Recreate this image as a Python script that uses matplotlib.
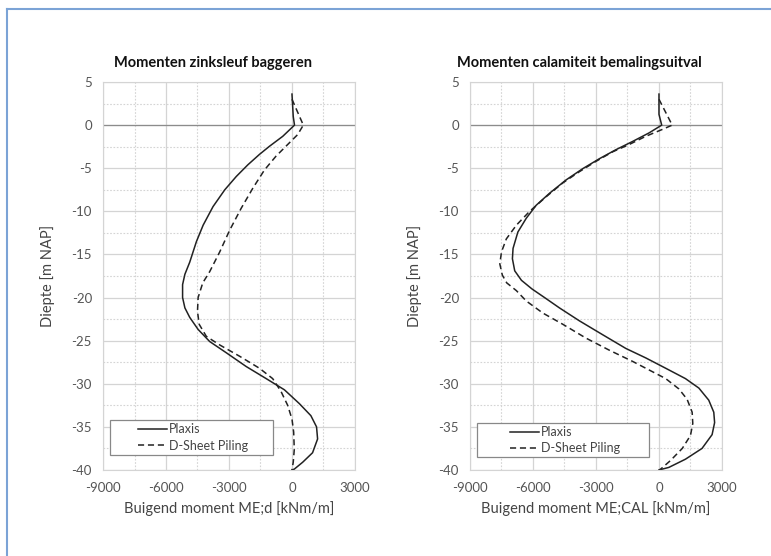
import matplotlib.pyplot as plt
from matplotlib.lines import Line2D
from matplotlib.patches import Rectangle
from matplotlib.ticker import MultipleLocator

plt.rcParams['font.family'] = ['Lato', 'DejaVu Sans']
plt.rcParams['axes.unicode_minus'] = False

# bending moments along the sheet pile wall, depth in m NAP
# -- dredging the trench (ME;d)
depth_plx_d = [3.6, 1.0, 0.0, -1.3, -2.45, -3.4, -4.6, -5.95, -7.5, -9.45, -11.6,
               -13.5, -15.9, -17.3, -18.5, -20.0, -21.2, -22.3, -23.7, -25.1,
               -26.4, -28.0, -29.4, -30.7, -32.3, -33.7, -35.0, -36.4, -38.0,
               -39.1, -39.9, -40.0]
moment_plx_d = [0, 60, 120, -440, -1070, -1550, -2100, -2650, -3200, -3760, -4230,
                -4550, -4870, -5100, -5210, -5210, -5100, -4870, -4470, -3920,
                -3130, -2180, -1230, -360, 350, 900, 1170, 1220, 980,
                510, 110, 0]

depth_dsp_d = [3.0, 0.0, -1.1, -2.25, -3.6, -5.2, -7.3, -9.65, -12.2, -14.7, -17.0,
               -18.3, -20.0, -21.6, -23.1, -24.5, -25.5, -26.8, -28.2, -29.4,
               -30.9, -32.5, -34.1, -35.6, -37.6, -39.1, -40.0]
moment_dsp_d = [0, 540, 270, -205, -760, -1310, -1860, -2420, -2970, -3440, -3920,
                -4250, -4470, -4500, -4420, -4080, -3440, -2500, -1550, -920,
                -520, -205, 0, 80, 110, 60, 0]

# -- calamity: dewatering failure (ME;CAL)
depth_plx_cal = [3.6, 1.25, 0.0, -0.9, -1.9, -2.85, -3.9, -5.05, -6.35, -7.9, -9.3,
                 -10.8, -12.4, -14.3, -15.5, -16.9, -18.0, -19.0, -20.0, -21.2,
                 -22.7, -24.3, -25.9, -27.0, -28.2, -29.4, -30.5, -31.9, -33.3,
                 -34.5, -35.9, -37.5, -38.75, -39.7, -40.0]
moment_plx_cal = [0, 0, 130, -470, -1260, -2050, -2840, -3630, -4420, -5210, -5850,
                  -6320, -6720, -6950, -6980, -6870, -6550, -6050, -5450, -4740,
                  -3790, -2690, -1580, -630, 320, 1260, 1900, 2370, 2610,
                  2650, 2530, 2050, 1260, 470, 0]

depth_dsp_cal = [3.0, 0.0, -0.5, -1.3, -2.25, -3.1, -4.2, -5.4, -6.7, -8.3, -10.0,
                 -11.6, -13.2, -14.7, -16.1, -17.4, -18.3, -19.2, -20.4, -21.8,
                 -23.1, -24.7, -26.1, -27.4, -28.4, -29.4, -30.6, -31.8, -33.3,
                 -34.6, -36.0, -37.5, -38.9, -39.9, -40.0]
moment_dsp_cal = [0, 630, 160, -630, -1420, -2210, -3000, -3790, -4580, -5370, -6160,
                  -6790, -7270, -7500, -7580, -7460, -7250, -6790, -6320, -5530,
                  -4580, -3480, -2370, -1260, -470, 320, 950, 1340, 1580,
                  1610, 1500, 1110, 550, 80, 0]

titles = ['Momenten zinksleuf baggeren', 'Momenten calamiteit bemalingsuitval']
xlabels = ['Buigend moment ME;d [kNm/m]', 'Buigend moment ME;CAL [kNm/m]']
series = [
    (moment_plx_d, depth_plx_d, moment_dsp_d, depth_dsp_d),
    (moment_plx_cal, depth_plx_cal, moment_dsp_cal, depth_dsp_cal),
]
positions = [[0.1336, 0.1547, 0.3268, 0.6978],
             [0.6096, 0.1547, 0.3268, 0.6978]]
# legend frame (x0, y0, w, h) and handle start, in axes coordinates
legend_box = [(0.028, 0.039, 0.647, 0.090), (0.028, 0.034, 0.682, 0.087)]
legend_handle = [(0.139, 0.084), (0.159, 0.077)]

fig = plt.figure(figsize=(7.71, 5.56), dpi=100)

# blue frame on top and left
fig.add_artist(Line2D([7 / 771, 1.0], [1 - 9 / 556, 1 - 9 / 556],
                      transform=fig.transFigure, color='#7ba3d6', lw=1.5))
fig.add_artist(Line2D([7 / 771, 7 / 771], [0.0, 1 - 9 / 556],
                      transform=fig.transFigure, color='#7ba3d6', lw=1.5))

for i in range(2):
    ax = fig.add_axes(positions[i])
    m1, d1, m2, d2 = series[i]
    ax.plot(m1, d1, color='#222222', lw=1.1, label='Plaxis')
    ax.plot(m2, d2, color='#222222', lw=1.1, ls=(0, (4, 2.5)), label='D-Sheet Piling')

    ax.set_xlim(-9000, 3000)
    ax.set_ylim(-40, 5)
    ax.xaxis.set_major_locator(MultipleLocator(3000))
    ax.xaxis.set_minor_locator(MultipleLocator(1500))
    ax.yaxis.set_major_locator(MultipleLocator(5))
    ax.yaxis.set_minor_locator(MultipleLocator(2.5))
    ax.grid(which='major', color='#d4d4d4', lw=0.9)
    ax.grid(which='minor', color='#d4d4d4', lw=0.8, ls=(0, (1.5, 1.5)))
    ax.axhline(0, color='#8c8c8c', lw=0.9, zorder=1.5)
    ax.set_axisbelow(True)
    for sp in ax.spines.values():
        sp.set_color('#d4d4d4')
    ax.tick_params(which='both', length=0, labelsize=9.5, labelcolor='#555555')
    ax.tick_params(axis='x', pad=9)
    ax.tick_params(axis='y', pad=8)

    # chart title is centred over the whole chart, a bit left of the plot area
    ax.set_title(titles[i], fontsize=10.5, fontweight='bold', color='#111111',
                 pad=11, x=0.436)
    ax.set_xlabel(xlabels[i], fontsize=10.5, color='#444444', labelpad=5)
    ax.set_ylabel('Diepte [m NAP]', fontsize=10.5, color='#444444', labelpad=12)

    x0, y0, w, h = legend_box[i]
    ax.add_patch(Rectangle((x0, y0), w, h, transform=ax.transAxes, facecolor='white',
                           edgecolor='#888888', lw=0.9, zorder=4))
    leg = ax.legend(loc='center left', bbox_to_anchor=legend_handle[i], fontsize=9,
                    handlelength=2.3, handletextpad=0.15, borderpad=0,
                    labelspacing=0.35, frameon=False, borderaxespad=0)
    leg.set_zorder(5)
    for t in leg.get_texts():
        t.set_color('#444444')

fig.savefig('out.png', dpi=100)
